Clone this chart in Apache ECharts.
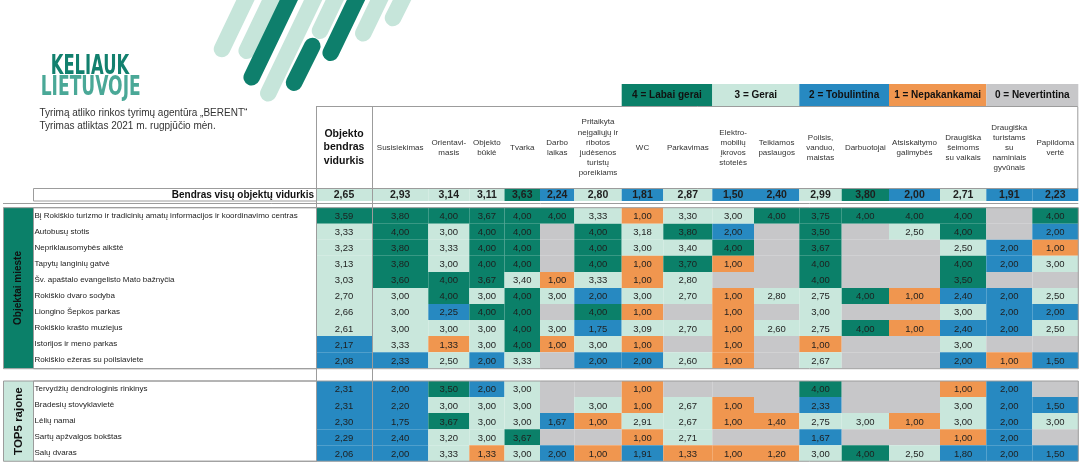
<!DOCTYPE html>
<html><head><meta charset="utf-8">
<script src="https://cdn.jsdelivr.net/npm/echarts@6/dist/echarts.min.js"></script>
<style>html,body{margin:0;padding:0;background:#fff}#c{width:1080px;height:463px}</style>
</head><body><div id="c"></div>
<script>
// ---------------- DATA ----------------
const columns = [
  'Objekto\nbendras\nvidurkis', 'Susisiekimas', 'Orientavi-\nmasis', 'Objekto\nbūklė', 'Tvarka',
  'Darbo\nlaikas', 'Pritaikyta\nneįgaliųjų ir\nribotos\njudėsenos\nturistų\nporeikiams', 'WC',
  'Parkavimas', 'Elektro-\nmobilių\nįkrovos\nstotelės', 'Teikiamos\npaslaugos', 'Poilsis,\nvanduo,\nmaistas',
  'Darbuotojai', 'Atsiskaitymo\ngalimybės', 'Draugiška\nšeimoms\nsu vaikais',
  'Draugiška\nturistams\nsu\nnaminiais\ngyvūnais', 'Papildoma\nvertė'
];
const legendLabels = ['4 = Labai gerai', '3 = Gerai', '2 = Tobulintina', '1 = Nepakankamai', '0 = Nevertintina'];
const overallLabel = 'Bendras visų objektų vidurkis';
const overallValues = [2.65, 2.93, 3.14, 3.11, 3.63, 2.24, 2.80, 1.81, 2.87, 1.50, 2.40, 2.99, 3.80, 2.00, 2.71, 1.91, 2.23];

const cityGroup = 'Objektai mieste';
const cityObjects = [
  'Bį Rokiškio turizmo ir tradicinių amatų informacijos ir koordinavimo centras',
  'Autobusų stotis', 'Nepriklausomybės aikštė', 'Tapytų langinių gatvė',
  'Šv. apaštalo evangelisto Mato bažnyčia', 'Rokiškio dvaro sodyba', 'Liongino Šepkos parkas',
  'Rokiškio krašto muziejus', 'Istorijos ir meno parkas', 'Rokiškio ežeras su poilsiaviete'
];
const cityValues = [
  [3.59, 3.80, 4.00, 3.67, 4.00, 4.00, 3.33, 1.00, 3.30, 3.00, 4.00, 3.75, 4.00, 4.00, 4.00, null, 4.00],
  [3.33, 4.00, 3.00, 4.00, 4.00, null, 4.00, 3.18, 3.80, 2.00, null, 3.50, null, 2.50, 4.00, null, 2.00],
  [3.23, 3.80, 3.33, 4.00, 4.00, null, 4.00, 3.00, 3.40, 4.00, null, 3.67, null, null, 2.50, 2.00, 1.00],
  [3.13, 3.80, 3.00, 4.00, 4.00, null, 4.00, 1.00, 3.70, 1.00, null, 4.00, null, null, 4.00, 2.00, 3.00],
  [3.03, 3.60, 4.00, 3.67, 3.40, 1.00, 3.33, 1.00, 2.80, null, null, 4.00, null, null, 3.50, null, null],
  [2.70, 3.00, 4.00, 3.00, 4.00, 3.00, 2.00, 3.00, 2.70, 1.00, 2.80, 2.75, 4.00, 1.00, 2.40, 2.00, 2.50],
  [2.66, 3.00, 2.25, 4.00, 4.00, null, 4.00, 1.00, null, 1.00, null, 3.00, null, null, 3.00, 2.00, 2.00],
  [2.61, 3.00, 3.00, 3.00, 4.00, 3.00, 1.75, 3.09, 2.70, 1.00, 2.60, 2.75, 4.00, 1.00, 2.40, 2.00, 2.50],
  [2.17, 3.33, 1.33, 3.00, 4.00, 1.00, 3.00, 1.00, null, 1.00, null, 1.00, null, null, 3.00, null, null],
  [2.08, 2.33, 2.50, 2.00, 3.33, null, 2.00, 2.00, 2.60, 1.00, null, 2.67, null, null, 2.00, 1.00, 1.50]
];

const regionGroup = 'TOP5 rajone';
const regionObjects = [
  'Tervydžių dendrologinis rinkinys', 'Bradesių stovyklavietė', 'Lėlių namai',
  'Sartų apžvalgos bokštas', 'Salų dvaras'
];
const regionValues = [
  [2.31, 2.00, 3.50, 2.00, 3.00, null, null, 1.00, null, null, null, 4.00, null, null, 1.00, 2.00, null],
  [2.31, 2.20, 3.00, 3.00, 3.00, null, 3.00, 1.00, 2.67, 1.00, null, 2.33, null, null, 3.00, 2.00, 1.50],
  [2.30, 1.75, 3.67, 3.00, 3.00, 1.67, 1.00, 2.91, 2.67, 1.00, 1.40, 2.75, 3.00, 1.00, 3.00, 2.00, 3.00],
  [2.29, 2.40, 3.20, 3.00, 3.67, null, null, 1.00, 2.71, null, null, 1.67, null, null, 1.00, 2.00, null],
  [2.06, 2.00, 3.33, 1.33, 3.00, 2.00, 1.00, 1.91, 1.33, 1.00, 1.20, 3.00, 4.00, 2.50, 1.80, 2.00, 1.50]
];

const surveyLines = ['Tyrimą atliko rinkos tyrimų agentūra „BERENT“', 'Tyrimas atliktas 2021 m. rugpjūčio mėn.'];
const logoTop = 'KELIAUK';
const logoBottom = 'LIETUVOJE';

// ---------------- LAYOUT / STYLE ----------------
const FONT = "'Liberation Sans', Arial, Helvetica, sans-serif";
const DARK = '#0b8069', MINT = '#c9e7dc', BLUE = '#2789c1', ORANGE = '#f0964f', GRAY = '#c7c7c9';
const LINE = '#9c9c9c';
const legendColors = [DARK, MINT, BLUE, ORANGE, GRAY];
const colEdges = [316, 372, 428.3, 469.3, 504.5, 540, 574.3, 621.7, 663.3, 712.3, 754, 799.3, 841.7, 889, 940, 986.3, 1032.3, 1078.3];
const legendSpan = [[7, 9], [9, 11], [11, 13], [13, 15], [15, 17]];
const headerTop = 106, headerBottom = 188, headerMid = 147.5;
const overallTop = 188, overallH = 13;
const cityTop = 207.7, regionTop = 381, rowH = 16.05;
const labelLeft = 33, groupLeft = 3;

function colorFor(v) {
  if (v == null) return GRAY;
  if (v >= 3.5) return DARK;
  if (v >= 2.5) return MINT;
  if (v >= 1.5) return BLUE;
  return ORANGE;
}
function fmt(v) { return v.toFixed(2).replace('.', ','); }

// logical rows: 0 = overall, 1..10 city, 11..15 region
const rowTopArr = [overallTop];
const rowHArr = [overallH];
cityObjects.forEach((_, i) => { rowTopArr.push(cityTop + i * rowH); rowHArr.push(rowH); });
regionObjects.forEach((_, i) => { rowTopArr.push(regionTop + i * rowH); rowHArr.push(rowH); });

const cellData = [];
overallValues.forEach((v, c) => cellData.push([c, 0, v == null ? -1 : v]));
cityValues.forEach((row, r) => row.forEach((v, c) => cellData.push([c, r + 1, v == null ? -1 : v])));
regionValues.forEach((row, r) => row.forEach((v, c) => cellData.push([c, r + 1 + cityObjects.length, v == null ? -1 : v])));

const rowLabelData = [];
cityObjects.forEach((n, i) => rowLabelData.push({ value: [0, i + 1], name: n }));
regionObjects.forEach((n, i) => rowLabelData.push({ value: [0, i + 1 + cityObjects.length], name: n }));

const chart = echarts.init(document.getElementById('c'), null, { renderer: 'canvas' });

function measureScale(text, font, target) {
  const cv = document.createElement('canvas').getContext('2d');
  cv.font = font;
  const w = cv.measureText(text).width;
  return w > 0 ? target / w : 1;
}

// decorative stripes (logo artwork)
const stripes = [
  { c: MINT, b: [222, 49], t: [255, -20] },
  { c: MINT, b: [246.7, 50.7], t: [280.6, -20] },
  { c: DARK, b: [251.7, 77.3], t: [298.4, -20] },
  { c: MINT, b: [268.3, 93.3], t: [322.7, -20] },
  { c: DARK, b: [294, 82.7], t: [312.3, 46] },
  { c: MINT, b: [320, 30.7], t: [344.3, -20] },
  { c: DARK, b: [330.7, 52.7], t: [365.6, -20] },
  { c: MINT, b: [363.3, 33.3], t: [388.9, -20] },
  { c: MINT, b: [393, 18], t: [412, -20] }
];
const graphics = stripes.map(s => ({
  type: 'line', z: 1, shape: { x1: s.b[0], y1: s.b[1], x2: s.t[0], y2: s.t[1] },
  style: { stroke: s.c === MINT ? '#c6e5da' : '#0e7f6c', lineWidth: 16.5, lineCap: 'round' }
}));
const logoFont1 = "bold 27px 'Liberation Sans Narrow', 'DejaVu Sans Condensed', " + FONT;
graphics.push({
  type: 'text', z: 5, x: 50.7, y: 66.5, scaleX: measureScale(logoTop, logoFont1, 78.5), originX: 0,
  style: { text: logoTop, font: logoFont1, fill: '#12806e', verticalAlign: 'middle', align: 'left' }
});
graphics.push({
  type: 'text', z: 5, x: 40.7, y: 87.5, scaleX: measureScale(logoBottom, logoFont1, 100), originX: 0,
  style: { text: logoBottom, font: logoFont1, fill: '#4aa897', verticalAlign: 'middle', align: 'left' }
});
surveyLines.forEach((t, i) => graphics.push({
  type: 'text', z: 5, x: 39.5, y: 113.5 + i * 12.8,
  style: { text: t, font: '10px ' + FONT, fill: '#333', verticalAlign: 'middle', align: 'left' }
}));
// borders
function hline(x1, x2, y) { graphics.push({ type: 'line', z: 50, shape: { x1, y1: y, x2, y2: y }, style: { stroke: LINE, lineWidth: 1 } }); }
function vline(x, y1, y2) { graphics.push({ type: 'line', z: 50, shape: { x1: x, y1, x2: x, y2 }, style: { stroke: LINE, lineWidth: 1 } }); }
function box(x, y, w, h) { graphics.push({ type: 'rect', z: 50, shape: { x, y, width: w, height: h }, style: { fill: null, stroke: LINE, lineWidth: 1 } }); }
const right = colEdges[colEdges.length - 1];
box(colEdges[0] + 0.5, headerTop + 0.5, right - colEdges[0] - 1, headerBottom - headerTop);
box(labelLeft + 0.5, overallTop + 0.5, colEdges[0] - labelLeft, overallH - 0.5);
hline(groupLeft, right, 203.5);
box(groupLeft + 0.5, cityTop, right - groupLeft - 0.5, cityObjects.length * rowH + 0.5);
box(labelLeft + 0.5, cityTop, colEdges[0] - labelLeft, cityObjects.length * rowH + 0.5);
box(groupLeft + 0.5, regionTop, right - groupLeft - 0.5, regionObjects.length * rowH);
box(labelLeft + 0.5, regionTop, colEdges[0] - labelLeft, regionObjects.length * rowH);
vline(colEdges[0] + 0.5, headerTop, regionTop + regionObjects.length * rowH);
vline(colEdges[1] + 0.5, headerTop, regionTop + regionObjects.length * rowH);

chart.setOption({
  animation: false,
  backgroundColor: '#fff',
  grid: { left: 0, right: 0, top: 0, bottom: 0 },
  xAxis: { type: 'value', min: 0, max: 1080, show: false },
  yAxis: { type: 'value', min: 0, max: 463, inverse: true, show: false },
  graphic: { elements: graphics },
  series: [
    {
      type: 'custom', name: 'cells', z: 10, silent: true,
      data: cellData,
      renderItem: function (params, api) {
        const c = api.value(0), r = api.value(1), v = api.value(2);
        const p0 = api.coord([colEdges[c], rowTopArr[r]]);
        const p1 = api.coord([colEdges[c + 1], rowTopArr[r] + rowHArr[r]]);
        const has = v >= 0;
        const children = [{
          type: 'rect', shape: { x: p0[0], y: p0[1], width: p1[0] - p0[0], height: p1[1] - p0[1] },
          style: { fill: has ? colorFor(v) : GRAY }
        }];
        if (has) children.push({
          type: 'text',
          style: {
            text: fmt(v), x: (p0[0] + p1[0]) / 2, y: (p0[1] + p1[1]) / 2 + 0.8,
            align: 'center', verticalAlign: 'middle',
            font: (r === 0 ? 'bold 10.5px ' : '9.5px ') + FONT, fill: '#1e1e1e'
          }
        });
        return { type: 'group', children };
      }
    },
    {
      type: 'custom', name: 'headers', z: 20, silent: true,
      data: columns.map((t, i) => ({ value: [i, headerMid], name: t })),
      renderItem: function (params, api) {
        const i = api.value(0);
        const a = api.coord([colEdges[i], api.value(1)]);
        const b = api.coord([colEdges[i + 1], api.value(1)]);
        const first = i === 0;
        return {
          type: 'text',
          style: {
            text: columns[i], x: (a[0] + b[0]) / 2, y: a[1],
            align: 'center', verticalAlign: 'middle',
            font: first ? 'bold 10.5px ' + FONT : '8px ' + FONT,
            lineHeight: first ? 13.4 : 10.1, fill: first ? '#111' : '#333'
          }
        };
      }
    },
    {
      type: 'custom', name: 'legend', z: 20, silent: true,
      data: legendLabels.map((t, i) => [i, 84]),
      renderItem: function (params, api) {
        const i = api.value(0);
        const s = legendSpan[i];
        const a = api.coord([colEdges[s[0]], api.value(1)]);
        const b = api.coord([colEdges[s[1]], headerTop]);
        return {
          type: 'group', children: [
            { type: 'rect', shape: { x: a[0], y: a[1], width: b[0] - a[0], height: b[1] - a[1] }, style: { fill: legendColors[i] } },
            { type: 'text', style: { text: legendLabels[i], x: (a[0] + b[0]) / 2, y: (a[1] + b[1]) / 2 + 0.5, align: 'center', verticalAlign: 'middle', font: 'bold 10px ' + FONT, fill: '#111' } }
          ]
        };
      }
    },
    {
      type: 'custom', name: 'rowLabels', z: 20, silent: true,
      data: rowLabelData,
      renderItem: function (params, api) {
        const r = api.value(1);
        const p = api.coord([labelLeft + 1.5, rowTopArr[r] + rowHArr[r] / 2]);
        return {
          type: 'text',
          style: { text: rowLabelData[params.dataIndex].name, x: p[0], y: p[1], align: 'left', verticalAlign: 'middle', font: '8px ' + FONT, fill: '#222' }
        };
      }
    },
    {
      type: 'custom', name: 'overallLabel', z: 20, silent: true,
      data: [[0, 0]],
      renderItem: function (params, api) {
        const p = api.coord([colEdges[0] - 2, rowTopArr[0] + rowHArr[0] / 2 + 0.5]);
        return { type: 'text', style: { text: overallLabel, x: p[0], y: p[1], align: 'right', verticalAlign: 'middle', font: 'bold 10px ' + FONT, fill: '#111' } };
      }
    },
    {
      type: 'custom', name: 'groups', z: 15, silent: true,
      data: [
        { value: [0, 1, cityObjects.length], name: cityGroup },
        { value: [1, 1 + cityObjects.length, regionObjects.length], name: regionGroup }
      ],
      renderItem: function (params, api) {
        const g = api.value(0), r0 = api.value(1), n = api.value(2);
        const a = api.coord([groupLeft, rowTopArr[r0]]);
        const b = api.coord([labelLeft, rowTopArr[r0] + rowH * n]);
        const name = g === 0 ? cityGroup : regionGroup;
        return {
          type: 'group', children: [
            { type: 'rect', shape: { x: a[0], y: a[1], width: b[0] - a[0], height: b[1] - a[1] }, style: { fill: g === 0 ? DARK : MINT } },
            { type: 'text', x: (a[0] + b[0]) / 2 + 0.5, y: (a[1] + b[1]) / 2, rotation: Math.PI / 2,
              style: { text: name, x: 0, y: 0, align: 'center', verticalAlign: 'middle', font: (g === 0 ? 'bold 10px ' : 'bold 11.5px ') + FONT, fill: '#111' } }
          ]
        };
      }
    }
  ]
});
</script>
</body></html>
